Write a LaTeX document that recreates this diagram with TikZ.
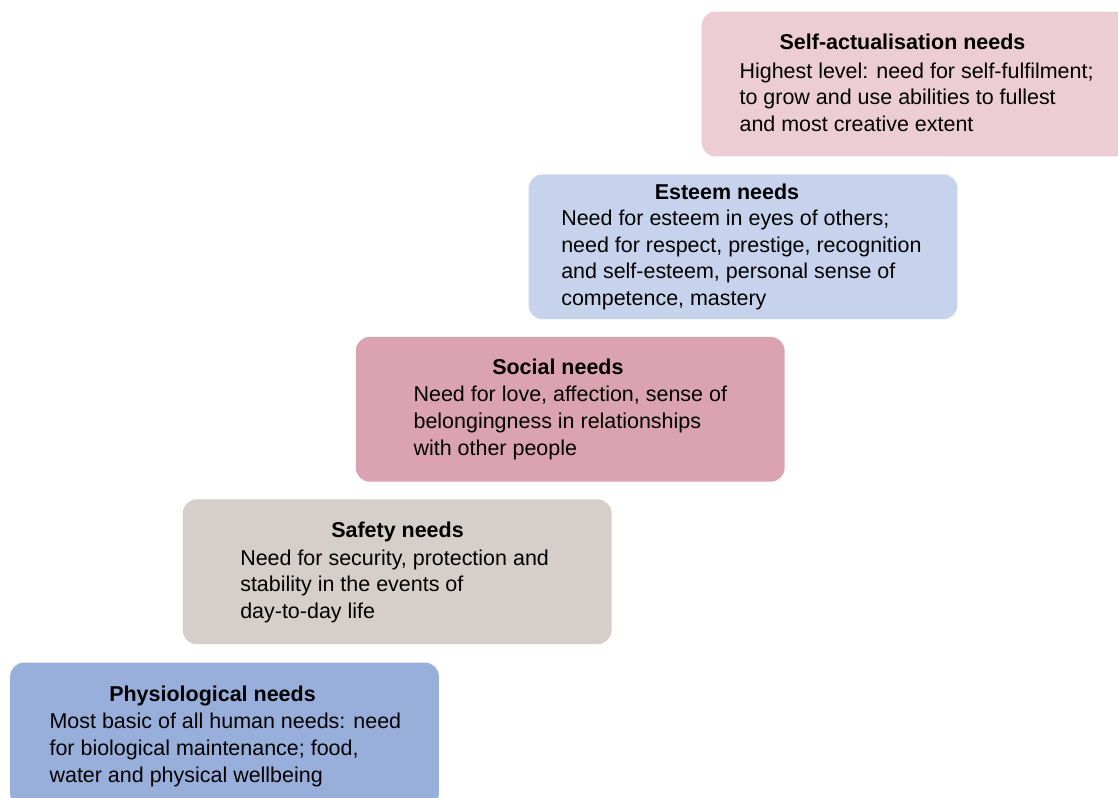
\documentclass[tikz,border=0pt]{standalone}
\usepackage{fontspec}
\setmainfont{Liberation Sans}
\definecolor{cself}{HTML}{EBCDD3}
\definecolor{cesteem}{HTML}{C7D3EC}
\definecolor{csocial}{HTML}{DBA3B1}
\definecolor{csafety}{HTML}{D6CECB}
\definecolor{cphysio}{HTML}{98AFDC}
\begin{document}
\begin{tikzpicture}[x=0.75pt,y=-0.75pt,
  needbox/.style={draw=none, rounded corners=10.5pt, minimum width=321.6pt, minimum height=108.6pt, inner sep=0pt},
  title/.style={anchor=base, inner sep=0pt, font=\fontsize{16.1pt}{20pt}\selectfont\bfseries},
  body/.style={anchor=base west, inner sep=0pt, align=left, font=\fontsize{16.1pt}{19.95pt}\selectfont}]
\useasboundingbox (0,0) rectangle (1118,798);
\clip (0,0) rectangle (1118,798);
% boxes
\node[needbox, fill=cself]   (self)   at (916,84) {};
\node[needbox, fill=cesteem] (esteem) at (743,246.8) {};
\node[needbox, fill=csocial] (social) at (570.2,409.3) {};
\node[needbox, fill=csafety] (safety) at (397.2,571.8) {};
\node[needbox, fill=cphysio] (physio) at (224.5,735) {};
% titles
\node[title] (tself)   at (902.5,50)   {Self-actualisation needs};
\node[title] (testeem) at (727,199.3)  {Esteem needs};
\node[title] (tsocial) at (557.9,375)  {Social needs};
\node[title] (tsafety) at (397.5,537.7) {Safety needs};
\node[title] (tphysio) at (212.5,701.7) {Physiological needs};
% bodies (anchor = baseline of the last line)
\node[body] (bself) at (739.3,131.5) {Highest level: need for self-fulfilment;\\to grow and use abilities to fullest\\and most creative extent};
\node[body] (besteem) at (561,305.4) {Need for esteem in eyes of others;\\need for respect, prestige, recognition\\and self-esteem, personal sense of\\competence, mastery};
\node[body] (bsocial) at (413.3,455.2) {Need for love, affection, sense of\\belongingness in relationships\\with other people};
\node[body] (bsafety) at (240,618.3) {Need for security, protection and\\stability in the events of\\day-to-day life};
\node[body] (bphysio) at (49.3,782) {Most basic of all human needs: need\\for biological maintenance; food,\\water and physical wellbeing};
\end{tikzpicture}
\end{document}
